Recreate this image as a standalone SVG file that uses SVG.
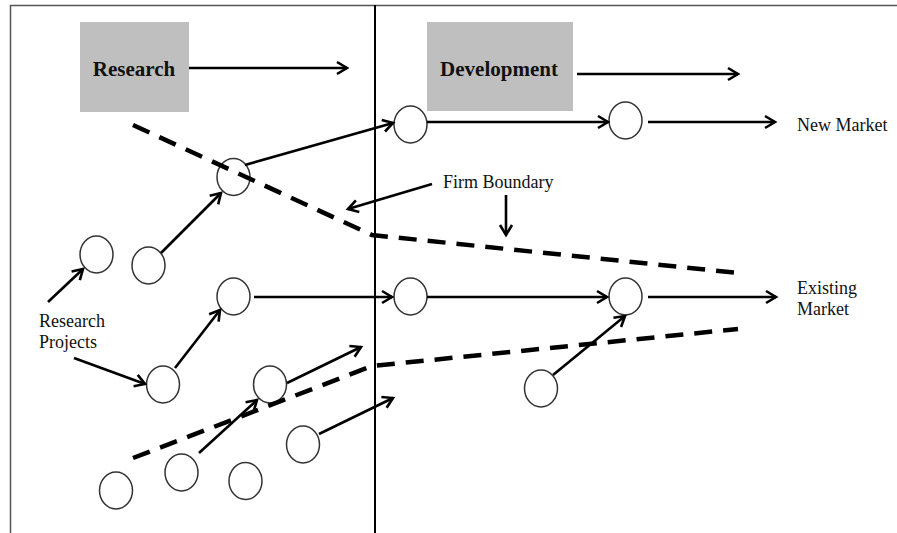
<svg xmlns="http://www.w3.org/2000/svg" width="897" height="533" viewBox="0 0 897 533">
<defs>
<marker id="ah" markerUnits="userSpaceOnUse" markerWidth="16" markerHeight="16" refX="12" refY="7" orient="auto" viewBox="0 0 16 14">
<path d="M2,1 L12,7 L2,13" fill="none" stroke="#000" stroke-width="2.6"/>
</marker>
<style>
.box{fill:#bfbfbf}
.node{fill:#fff;stroke:#333;stroke-width:1.5}
.arr{fill:none;stroke:#000;stroke-width:2.6;marker-end:url(#ah)}
.dash{fill:none;stroke:#000;stroke-width:4.5;stroke-dasharray:18 11}
.t{font-family:"Liberation Serif","Times New Roman",serif;font-size:18px;fill:#111}
.tb{font-family:"Liberation Serif","Times New Roman",serif;font-size:21px;font-weight:bold;fill:#111;text-anchor:middle}
</style>
</defs>
<rect width="897" height="533" fill="#fff"/>
<rect x="10.5" y="5.5" width="900" height="600" fill="none" stroke="#555" stroke-width="1.5"/>
<line x1="375" y1="5" x2="375" y2="533" stroke="#000" stroke-width="2"/>

<g id="research-box"><rect class="box" x="80" y="22" width="109" height="90"/><text class="tb" x="134" y="76">Research</text></g>
<g id="development-box"><rect class="box" x="427" y="22" width="146" height="89"/><text class="tb" x="499" y="76">Development</text></g>

<g id="nodes">
<ellipse id="n-new1" class="node" cx="410.5" cy="124.5" rx="16.5" ry="18.5"/>
<ellipse id="n-new2" class="node" cx="625.5" cy="120.5" rx="16.5" ry="18.5"/>
<ellipse id="n-cross" class="node" cx="233.5" cy="177" rx="16.5" ry="18.5"/>
<ellipse id="n-a" class="node" cx="96.5" cy="254.5" rx="16.5" ry="18.5"/>
<ellipse id="n-b" class="node" cx="148.5" cy="265.5" rx="16.5" ry="18.5"/>
<ellipse id="n-d" class="node" cx="233.5" cy="296.5" rx="16.5" ry="18.5"/>
<ellipse id="n-ex1" class="node" cx="410.5" cy="296.5" rx="16.5" ry="18.5"/>
<ellipse id="n-ex2" class="node" cx="625.5" cy="296.5" rx="16.5" ry="18.5"/>
<ellipse id="n-c" class="node" cx="163" cy="384.5" rx="16.5" ry="18.5"/>
<ellipse id="n-f" class="node" cx="270" cy="384.5" rx="16.5" ry="18.5"/>
<ellipse id="n-e" class="node" cx="541" cy="388.5" rx="16.5" ry="18.5"/>
<ellipse id="n-j" class="node" cx="303" cy="444.5" rx="16.5" ry="18.5"/>
<ellipse id="n-g" class="node" cx="181.5" cy="472.5" rx="16.5" ry="18.5"/>
<ellipse id="n-i" class="node" cx="245.5" cy="481" rx="16.5" ry="18.5"/>
<ellipse id="n-h" class="node" cx="116" cy="490.5" rx="16.5" ry="18.5"/>
</g>

<g id="boundaries">
<polyline class="dash" points="133,125 372,235 738,273"/>
<polyline class="dash" points="133,458 372,366 738,329"/>
</g>

<g id="connectors">
<line class="arr" x1="189" y1="68" x2="347" y2="68"/>
<line class="arr" x1="577" y1="74" x2="738" y2="74"/>
<line class="arr" x1="245" y1="165" x2="393" y2="123"/>
<line class="arr" x1="427" y1="122" x2="608" y2="122"/>
<line class="arr" x1="648" y1="122" x2="775" y2="122"/>
<line class="arr" x1="432" y1="184" x2="348" y2="209"/>
<line class="arr" x1="506" y1="195" x2="506" y2="235"/>
<line class="arr" x1="161" y1="253" x2="221" y2="193"/>
<line class="arr" x1="48" y1="302" x2="83" y2="269"/>
<line class="arr" x1="74" y1="358" x2="145" y2="384"/>
<line class="arr" x1="175" y1="368" x2="220" y2="310"/>
<line class="arr" x1="254" y1="297" x2="392" y2="297"/>
<line class="arr" x1="427" y1="297" x2="607" y2="297"/>
<line class="arr" x1="648" y1="297" x2="776" y2="297"/>
<line class="arr" x1="553" y1="375" x2="625" y2="316"/>
<line class="arr" x1="287" y1="383" x2="361" y2="347"/>
<line class="arr" x1="199" y1="453" x2="257" y2="400"/>
<line class="arr" x1="319" y1="434" x2="393" y2="398"/>
</g>

<g id="labels">
<text class="t" x="797" y="131">New Market</text>
<text class="t" x="443" y="188">Firm Boundary</text>
<text class="t" x="39" y="327">Research</text>
<text class="t" x="39" y="348">Projects</text>
<text class="t" x="797" y="294">Existing</text>
<text class="t" x="797" y="315">Market</text>
</g>
</svg>
